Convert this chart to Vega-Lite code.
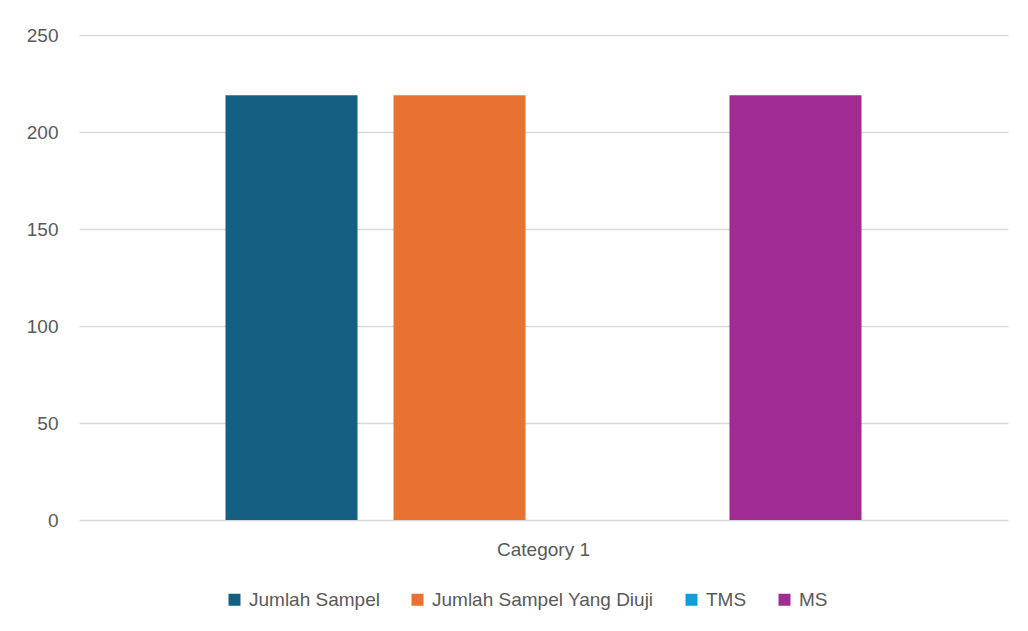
{
  "$schema": "https://vega.github.io/schema/vega-lite/v6.json",
  "width": 929,
  "height": 485,
  "autosize": {"type": "none"},
  "padding": {"left": 79, "top": 35, "right": 20, "bottom": 111},
  "background": "white",
  "config": {
    "view": {"stroke": null},
    "font": "Liberation Sans",
    "axis": {"labelColor": "#595959", "labelFontSize": 19, "labelFont": "Liberation Sans"},
    "legend": {"labelColor": "#595959", "labelFontSize": 19, "labelFont": "Liberation Sans"}
  },
  "data": {
    "values": [
      {"category": "Category 1", "series": "Jumlah Sampel", "value": 219},
      {"category": "Category 1", "series": "Jumlah Sampel Yang Diuji", "value": 219},
      {"category": "Category 1", "series": "TMS", "value": 0},
      {"category": "Category 1", "series": "MS", "value": 219}
    ]
  },
  "mark": {"type": "bar"},
  "encoding": {
    "x": {
      "field": "category", "type": "nominal",
      "scale": {"paddingInner": 0, "paddingOuter": 0},
      "axis": {"title": null, "labelAngle": 0, "domain": false, "ticks": false, "labelPadding": 20, "grid": false}
    },
    "xOffset": {
      "field": "series", "type": "nominal",
      "sort": ["Jumlah Sampel", "Jumlah Sampel Yang Diuji", "TMS", "MS"],
      "scale": {"paddingInner": 0.214, "paddingOuter": 0.872}
    },
    "y": {
      "field": "value", "type": "quantitative",
      "scale": {"domain": [0, 250], "nice": false},
      "axis": {"title": null, "values": [0, 50, 100, 150, 200, 250], "domain": false, "ticks": false, "labelPadding": 21, "gridColor": "#d9d9d9", "gridWidth": 1.5}
    },
    "color": {
      "field": "series", "type": "nominal",
      "sort": ["Jumlah Sampel", "Jumlah Sampel Yang Diuji", "TMS", "MS"],
      "scale": {"domain": ["Jumlah Sampel", "Jumlah Sampel Yang Diuji", "TMS", "MS"], "range": ["#156082", "#E97132", "#0F9ED5", "#A02B93"]},
      "legend": {
        "title": null, "orient": "none", "direction": "horizontal",
        "legendX": 146, "legendY": 555,
        "symbolType": "square", "symbolSize": 144, "symbolStrokeWidth": 0,
        "labelOffset": 5, "columnPadding": 28, "labelLimit": 0
      }
    }
  }
}
